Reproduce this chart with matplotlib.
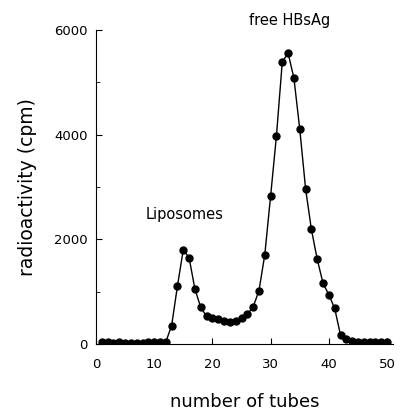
import matplotlib.pyplot as plt
import numpy as np

# tube number vs radioactivity (cpm)
tubes = np.arange(1, 51)
cpm = [30, 30, 25, 30, 25, 20, 25, 25, 30, 30, 30, 40,
       350, 1110, 1800, 1650, 1050, 700, 530, 490, 480, 440, 425, 440,
       490, 570, 710, 1020, 1710, 2830, 3980, 5390, 5560, 5080, 4110,
       2970, 2190, 1620, 1160, 940, 680, 170, 90, 60, 45, 40, 40, 35, 35, 35]

xticks = [0, 10, 20, 30, 40, 50]
yticks = [0, 2000, 4000, 6000]

fig = plt.figure(figsize=(4.03, 4.17), dpi=100)
ax = fig.add_axes([0.238, 0.175, 0.737, 0.753])

ax.plot(tubes, cpm, color='black', linewidth=1.0, marker='o',
        markersize=5, markerfacecolor='black', markeredgecolor='black')

ax.set_xlim(0, 51)
ax.set_ylim(0, 6000)
ax.spines['top'].set_visible(False)
ax.spines['right'].set_visible(False)
ax.spines['left'].set_bounds(0, 6000)
ax.spines['bottom'].set_bounds(0, 51)

ax.set_xticks(xticks)
ax.set_yticks(yticks)
ax.set_yticks([1000, 3000, 5000], minor=True)
ax.tick_params(direction='in', length=4, labelsize=9.5)
ax.tick_params(which='minor', direction='in', length=3)
ax.tick_params(axis='y', pad=6)
ax.tick_params(axis='x', pad=10)

ax.set_xlabel('number of tubes', fontsize=13, labelpad=16)
ax.set_ylabel('radioactivity (cpm)', fontsize=13.5, labelpad=12)

ax.text(15.2, 2330, 'Liposomes', fontsize=10.5, ha='center', va='bottom')
ax.text(33.2, 6030, 'free HBsAg', fontsize=10.5, ha='center', va='bottom')

plt.savefig('out.png', dpi=100)
